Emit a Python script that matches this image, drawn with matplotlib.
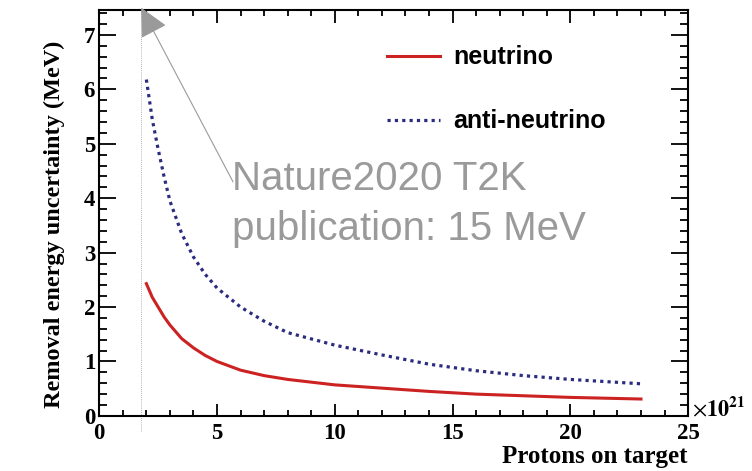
import matplotlib.pyplot as plt
from matplotlib.ticker import MultipleLocator

plt.rcParams['mathtext.fontset'] = 'stix'

# protons on target (x 10^21)
pot = [2, 2.25, 2.5, 2.75, 3, 3.5, 4, 4.5, 5, 6, 7, 8, 10, 12, 14, 16, 18, 20, 23]
# removal energy uncertainty (MeV)
neutrino = [2.43, 2.18, 2.00, 1.82, 1.67, 1.42, 1.25, 1.11, 1.00, 0.84, 0.74, 0.67,
            0.57, 0.51, 0.45, 0.40, 0.37, 0.34, 0.31]
antineutrino = [6.18, 5.45, 4.90, 4.40, 3.95, 3.35, 2.92, 2.60, 2.35, 2.00, 1.74, 1.53,
                1.30, 1.12, 0.95, 0.83, 0.74, 0.67, 0.59]

nature_pot = 1.78
grey = '#9a9a9a'

fig = plt.figure(figsize=(7.52, 4.71), dpi=100)
ax = fig.add_axes([0.132, 0.117, 0.783, 0.862])

ax.plot(pot, neutrino, color='#cc2222', lw=2.2, label='neutrino')
ax.plot(pot, antineutrino, color='#2b2b80', lw=2.3, ls=(0, (1, 1.3)), label='anti-neutrino')

# T2K Nature 2020 exposure marker
ax.plot([nature_pot, nature_pot], [-0.27, 7.45], color=grey, lw=0.6, ls=(0, (1, 1.5)), clip_on=False)
ax.annotate('', xy=(nature_pot, 7.5), xytext=(5.68, 4.3), annotation_clip=False,
            arrowprops=dict(arrowstyle='-|>,head_length=0.9,head_width=0.45', color=grey,
                            lw=0.8, shrinkA=0, shrinkB=0, mutation_scale=20))
ax.text(5.64, 4.71, 'Nature2020 T2K\npublication: 15 MeV', color=grey, fontsize=29,
        family='Liberation Sans', va='top', ha='left', linespacing=1.4)

ax.set_xlim(0, 25)
ax.set_ylim(0, 7.46)
ax.xaxis.set_major_locator(MultipleLocator(5))
ax.xaxis.set_minor_locator(MultipleLocator(1))
ax.yaxis.set_major_locator(MultipleLocator(1))
ax.yaxis.set_minor_locator(MultipleLocator(0.2))
ax.tick_params(which='both', direction='in', top=True, right=True, width=1.3)
ax.tick_params(axis='x', which='major', length=9, pad=5)
ax.tick_params(axis='x', which='minor', length=4.5)
ax.tick_params(axis='y', which='major', length=12, pad=3)
ax.tick_params(axis='y', which='minor', length=6)
for lab in ax.get_xticklabels() + ax.get_yticklabels():
    lab.set_family('Liberation Serif')
    lab.set_fontweight('bold')
    lab.set_fontsize(16.5)
for s in ax.spines.values():
    s.set_linewidth(1.5)

ax.set_ylabel('Removal energy uncertainty (MeV)', family='Liberation Serif',
              fontweight='bold', fontsize=17.5)
ax.yaxis.set_label_coords(-0.058, 0.473)
fig.text(688 / 752, 1 - 457 / 471, 'Protons on target', family='Liberation Serif',
         fontweight='bold', fontsize=18, ha='right', va='center')
fig.text(692 / 752, 1 - 408 / 471, r'$\times\mathbf{10^{21}}$', fontsize=16,
         ha='left', va='center')

leg = ax.legend(loc='upper left', bbox_to_anchor=(0.451, 0.968), frameon=False,
                prop={'family': 'Liberation Sans', 'weight': 'bold', 'size': 18},
                handlelength=2.1, labelspacing=1.6, handletextpad=0.52)

fig.savefig('out.png', dpi=100)
